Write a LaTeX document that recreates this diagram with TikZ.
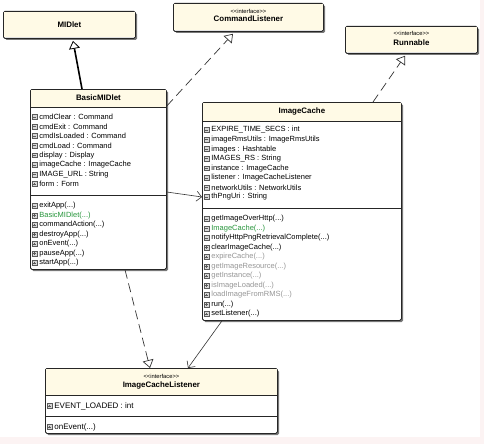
\documentclass[tikz,border=0pt]{standalone}
\usepackage{fontspec}
\setmainfont{Liberation Sans}
\usetikzlibrary{arrows.meta}
\definecolor{hdr}{RGB}{255,250,230}
\definecolor{shd}{RGB}{120,120,120}
\definecolor{pinkbg}{RGB}{252,243,243}
\definecolor{mgreen}{RGB}{40,150,60}
\definecolor{mgray}{RGB}{150,150,150}
\definecolor{icnfill}{RGB}{215,215,215}
\definecolor{icndraw}{RGB}{90,90,90}
\newcommand\memfont{\fontsize{7.5}{8}\selectfont}
\newcommand\bigmemfont{\fontsize{8}{9}\selectfont}
\newcommand\titlefont{\fontsize{7.9}{9}\selectfont\bfseries}
\newcommand\stereofont{\fontsize{5.8}{7}\selectfont}
\newcommand\dd{...}
\tikzset{
  classbox/.style={draw=black!85, line width=0.8pt, fill=white, rounded corners=1.5pt, anchor=north west, inner sep=0pt},
  sepline/.style={draw=black!85, line width=0.8pt},
  member/.style={anchor=west, inner sep=0pt, font=\memfont},
  title/.style={inner sep=0pt, font=\titlefont},
  stereo/.style={inner sep=0pt, font=\stereofont},
  mi/.pic={\draw[icndraw, fill=icnfill, line width=0.5pt] (-2.4,-2.4) rectangle (2.4,2.4);
           \draw[icndraw, line width=0.6pt] (-1.4,0) -- (1.4,0);},
  pl/.pic={\draw[icndraw, fill=icnfill, line width=0.5pt] (-2.4,-2.4) rectangle (2.4,2.4);
           \draw[icndraw, line width=0.6pt] (-1.4,0) -- (1.4,0) (0,-1.4) -- (0,1.4);},
  gen/.style={black, line width=1.6pt, -{Triangle[open, length=8pt, width=11pt, line width=0.8pt]}},
  real/.style={black!80, line width=0.7pt, dash pattern=on 9pt off 5pt, -{Triangle[open, length=8pt, width=11pt]}},
  assoc/.style={black!80, line width=0.6pt, -{Straight Barb[length=5pt, width=10pt]}},
}
% name, x, y, w, h, header height
\newcommand\classframe[6]{%
  \fill[shd, rounded corners=1.5pt] (#2+2,#3+2) rectangle ++(#4,#5);
  \node[classbox, minimum width=#4pt, minimum height=#5pt] (#1) at (#2,#3) {};
  \fill[hdr] ([shift={(0.6pt,-0.6pt)}]#1.north west) rectangle ([shift={(-0.6pt,-#6pt)}]#1.north east);
}
\newcommand\hsep[2]{\draw[sepline] ([yshift=-#2pt]#1.north west) -- ([yshift=-#2pt]#1.north east);}
% node name, box, y offset, icon, colour, text
\newcommand\mem[6]{%
  \pic at ([shift={(4.4pt,-#3pt)}]#2.north west) {#4};
  \node[member, text=#5] (#1) at ([shift={(9.2pt,-#3pt)}]#2.north west) {#6};
}
\begin{document}
\begin{tikzpicture}[x=1pt, y=-1pt]
\useasboundingbox (0,0) rectangle (484,444);
\fill[white] (0,0) rectangle (484,444);
\fill[pinkbg] (0,437) rectangle (484,444);
\fill[pinkbg] (480,0) rectangle (484,444);

% MIDlet
\classframe{midlet}{3}{11}{132}{27}{26.4}
\node[title] (midletT) at ([yshift=-13.5pt]midlet.north) {MIDlet};

% CommandListener
\classframe{cl}{173}{3}{150}{28}{27.4}
\node[stereo] (clS) at ([yshift=-8.5pt]cl.north) {<{}<interface>{}>};
\node[title] (clT) at ([yshift=-16pt]cl.north) {CommandListener};

% Runnable
\classframe{run}{345}{26}{132}{27}{26.4}
\node[stereo] (runS) at ([yshift=-7.5pt]run.north) {<{}<interface>{}>};
\node[title] (runT) at ([yshift=-16.5pt]run.north) {Runnable};

% BasicMIDlet
\classframe{bm}{30}{89}{136}{180}{18}
\node[title] (bmT) at ([yshift=-8.5pt]bm.north) {BasicMIDlet};
\hsep{bm}{18}
\foreach \t/\ic/\c [count=\i] in {cmdClear : Command/mi/black, cmdExit : Command/mi/black,
  cmdIsLoaded : Command/mi/black, cmdLoad : Command/mi/black, display : Display/mi/black,
  imageCache : ImageCache/mi/black, IMAGE\_URL : String/mi/black, form : Form/pl/black}{
  \pgfmathsetmacro\yy{28+(\i-1)*9.57}
  \mem{bma\i}{bm}{\yy}{\ic}{\c}{\t}
}
\hsep{bm}{106}
\foreach \t/\ic/\c [count=\i] in {exitApp(\dd)/mi/black, BasicMIDlet(\dd)/pl/mgreen,
  commandAction(\dd)/pl/black, destroyApp(\dd)/pl/black, onEvent(\dd)/pl/black,
  pauseApp(\dd)/pl/black, startApp(\dd)/pl/black}{
  \pgfmathsetmacro\yy{117+(\i-1)*9.5}
  \mem{bmm\i}{bm}{\yy}{\ic}{\c}{\t}
}

% ImageCache
\classframe{ic}{202}{102}{199}{218}{19}
\node[title] (icT) at ([yshift=-9pt]ic.north) {ImageCache};
\hsep{ic}{19}
\foreach \t/\ic/\c [count=\i] in {EXPIRE\_TIME\_SECS : int/mi/black,
  imageRmsUtils : ImageRmsUtils/mi/black, images : Hashtable/mi/black,
  IMAGES\_RS : String/mi/black, instance : ImageCache/mi/black,
  listener : ImageCacheListener/mi/black, networkUtils : NetworkUtils/mi/black,
  thPngUri : String/mi/black}{
  \pgfmathsetmacro\yy{28+(\i-1)*9.57}
  \mem{ica\i}{ic}{\yy}{\ic}{\c}{\t}
}
\hsep{ic}{106}
\foreach \t/\ic/\c [count=\i] in {getImageOverHttp(\dd)/mi/black, ImageCache(\dd)/mi/mgreen,
  notifyHttpPngRetrievalComplete(\dd)/mi/black, clearImageCache(\dd)/pl/black,
  expireCache(\dd)/pl/mgray, getImageResource(\dd)/pl/mgray, getInstance(\dd)/pl/mgray,
  isImageLoaded(\dd)/pl/mgray, loadImageFromRMS(\dd)/pl/mgray, run(\dd)/pl/black,
  setListener(\dd)/pl/black}{
  \pgfmathsetmacro\yy{117+(\i-1)*9.5}
  \mem{icm\i}{ic}{\yy}{\ic}{\c}{\t}
}

% ImageCacheListener
\classframe{icl}{45}{368}{232}{65}{27}
\node[stereo] (iclS) at ([yshift=-8pt]icl.north) {<{}<interface>{}>};
\node[title] (iclT) at ([yshift=-17.5pt]icl.north) {ImageCacheListener};
\hsep{icl}{27}
\mem{icla1}{icl}{38}{pl}{black}{\bigmemfont EVENT\_LOADED : int}
\hsep{icl}{48}
\mem{iclm1}{icl}{59}{pl}{black}{\bigmemfont onEvent(\dd)}

% connectors
\draw[gen] ([xshift=52pt]bm.north west) -- ([xshift=70pt,yshift=-2pt]midlet.south west);
\draw[real] ([yshift=-17pt]bm.north east) -- ([xshift=60pt,yshift=-2pt]cl.south west);
\draw[real] ([xshift=171pt]ic.north west) -- ([xshift=60pt,yshift=-2pt]run.south west);
\draw[assoc] ([yshift=-103pt]bm.north east) -- ([yshift=-95pt]ic.north west);
\draw[real] ([xshift=95pt]bm.south west) -- ([xshift=105pt]icl.north west);
\draw[assoc] ([xshift=20pt]ic.south west) -- ([xshift=143pt]icl.north west);
\end{tikzpicture}
\end{document}
